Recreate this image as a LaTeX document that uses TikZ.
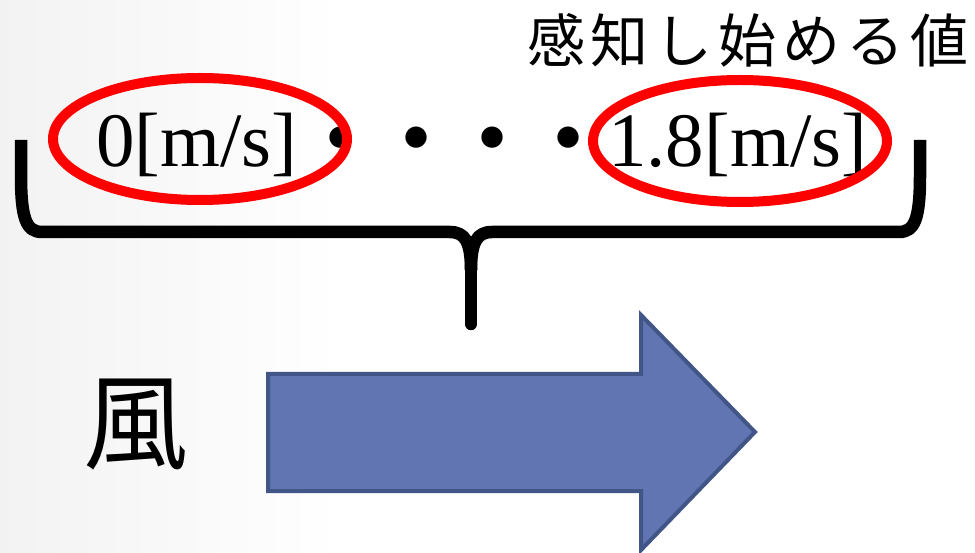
\documentclass[tikz,border=0pt]{standalone}
\usepackage{fontspec}
\setmainfont{Liberation Serif}
\newfontfamily\cjk{Noto Sans CJK JP}
\definecolor{arrowfill}{RGB}{96,117,178}
\definecolor{arrowline}{RGB}{66,85,135}
\tikzset{
  speedtext/.style={anchor=base west, inner sep=0pt, font=\fontsize{77}{80}\selectfont},
  ring/.style={draw=red, line width=10pt, ellipse, minimum width=294pt, minimum height=122pt, inner sep=0pt},
  bracepath/.style={line width=12.5pt, line join=round},
}
\usetikzlibrary{shapes.geometric}
\begin{document}
\begin{tikzpicture}[x=1pt,y=-1pt]
  % canvas with a faint grey fade on the left
  \useasboundingbox (0,0) rectangle (975,553);
  \fill[white] (0,0) rectangle (975,553);
  \fill[left color=black!5, right color=white] (0,0) rectangle (340,553);

  % caption
  \node[font=\cjk\fontsize{58}{60}\selectfont, inner sep=0pt] (caption) at (748,40)
    {感\kern6pt 知\kern6pt し\kern6pt 始\kern6pt め\kern6pt る\kern6pt 値};

  % speed range
  \node[speedtext] (vmin) at (96,167) {0[m/s]};
  \node[speedtext, font=\cjk\bfseries\fontsize{76}{80}\selectfont] (dots) at (302,167) {・・・・};
  \node[speedtext] (vmax) at (608,167) {1.8[m/s]};

  % red rings
  \node[ring] (ringmin) at (200,139) {};
  \node[ring] (ringmax) at (740,141) {};

  % brace under the range
  \draw[bracepath] (21,140) -- (21,175) .. controls (21,218) and (26,232) .. (42,232)
        -- (450,232) .. controls (465,232) and (471,242) .. (471,270);
  \draw[bracepath] (920,140) -- (920,175) .. controls (920,218) and (915,232) .. (899,232)
        -- (492,232) .. controls (477,232) and (471,242) .. (471,270);
  \draw[line width=12.5pt, line cap=round] (471,265) -- (471,324);

  % wind label and arrow
  \node[font=\cjk\fontsize{105}{110}\selectfont, inner sep=0pt] (wind) at (136,425) {風};
  \draw[fill=arrowfill, draw=arrowline, line width=4pt, line join=miter]
    (268,374) -- (641,374) -- (641,315) -- (755,432) -- (641,550) -- (641,491) -- (268,491) -- cycle;
\end{tikzpicture}
\end{document}
